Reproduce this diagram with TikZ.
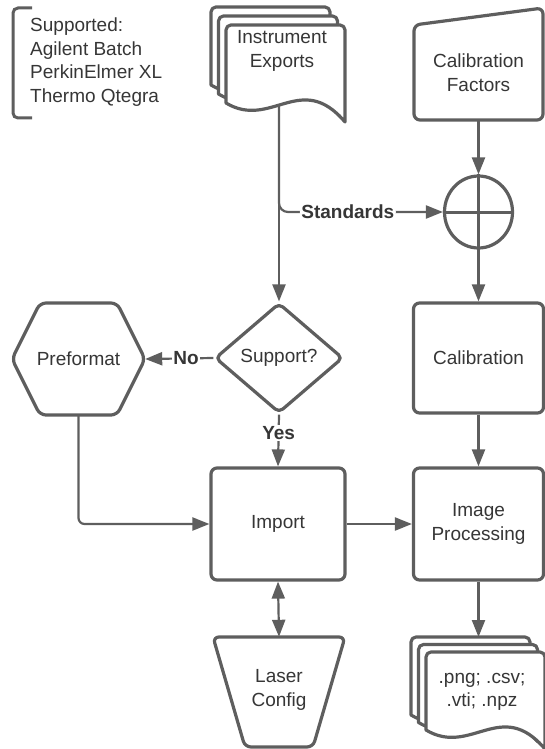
\documentclass[tikz,border=0pt]{standalone}
\usepackage{fontspec}
\setmainfont{Liberation Sans}
\usetikzlibrary{arrows.meta,shapes.geometric,calc,backgrounds}
\definecolor{ln}{HTML}{5E5E5E}
\definecolor{tx}{HTML}{363636}
\newcommand{\mydocshape}[1]{%
  \draw[shp,shift={#1}] (0,78) [rounded corners=5pt] -- (0,0) -- (119,0) [sharp corners] -- (119,97)
    .. controls (75,45) and (45,105) .. (0,78) -- cycle;}
\begin{document}
\begin{tikzpicture}[x=1pt,y=-1pt,
  every node/.style={text=tx, font=\fontsize{19}{23.5}\selectfont, align=center, inner sep=0pt},
  shp/.style={draw=ln, line width=3.2pt, fill=white, rounded corners=6pt, line join=round},
  box/.style={shp, minimum width=130pt, minimum height=110pt},
  conn/.style={draw=ln, line width=2.2pt, -{Triangle[length=17pt,width=13pt]}},
  lbl/.style={fill=white, font=\fontsize{19}{23}\selectfont\bfseries, inner sep=1.5pt}
]
\useasboundingbox (0,0) rectangle (545,749);

% annotation
\draw[ln, line width=3pt, rounded corners=5pt] (32,8) -- (13,8) -- (13,118) -- (32,118);
\node[anchor=west, align=left] (note) at (30,62) {Supported:\\Agilent Batch\\PerkinElmer XL\\Thermo Qtegra};

% instrument exports
\mydocshape{(211,7)}
\mydocshape{(218.5,16)}
\mydocshape{(226,25)}
\node (ie) at (282,51) {Instrument\\Exports};
\coordinate (ieout) at (279,104.5);

% calibration factors
\node[minimum width=129pt, minimum height=95pt] (cf) at (478.5,72.5) {Calibration\\Factors};
\begin{scope}[on background layer]
\draw[shp] (414,120) -- (414,25) -- (543,8) -- (543,120) -- cycle;
\end{scope}

% summing junction
\node[shp, ellipse, minimum width=68pt, minimum height=72pt] (sum) at (478.5,212) {};
\draw[ln, line width=3pt] (sum.north) -- (sum.south) (sum.west) -- (sum.east);

% support decision
\node[shp, diamond, aspect=1.16, minimum width=128pt, minimum height=110pt, rounded corners=5pt] (sup) at (279,358) {Support?};

% preformat hexagon
\node[minimum width=133pt, minimum height=112pt] (pre) at (78.5,359) {Preformat};
\begin{scope}[on background layer]
\draw[shp] (12,359) -- (40,303) -- (117,303) -- (145,359) -- (117,415) -- (40,415) -- cycle;
\end{scope}

% boxes
\node[box] (cal) at (478.5,358) {Calibration};
\node[box, minimum width=134pt, minimum height=112pt] (imp) at (278,524) {Import};
\node[box, minimum height=112pt] (ip) at (478.5,524) {Image\\Processing};

% laser config
\node[minimum width=132pt, minimum height=106pt] (lc) at (279,690) {Laser\\Config};
\begin{scope}[on background layer]
\draw[shp] (213,637) -- (345,637) -- (313,747) -- (245,747) -- cycle;
\end{scope}

% output documents
\begin{scope}[on background layer]
\mydocshape{(411,637)}
\mydocshape{(418.5,644.5)}
\mydocshape{(426,652)}
\end{scope}
\node (out) at (482,692) {.png; .csv;\\.vti; .npz};
\coordinate (outin) at (478.5,637);

% connectors
\draw[conn] (ieout) -- (sup.north);
\draw[conn, rounded corners=9pt] (ieout) |- node[lbl, pos=0.71] {Standards} (sum.west);
\draw[conn] (cf.south) -- (sum.north);
\draw[conn] (sum.south) -- (cal.north);
\draw[conn] (cal.south) -- (ip.north);
\draw[conn] (sup.west) -- node[lbl, pos=0.4] {No} (pre.east);
\draw[conn] (sup.south) -- node[lbl, pos=0.36] {Yes} (imp.north);
\draw[conn, rounded corners=6pt] (pre.south) |- (imp.west);
\draw[conn] (imp.east) -- (ip.west);
\draw[conn, {Triangle[length=17pt,width=13pt]}-{Triangle[length=17pt,width=13pt]}] (imp.south) -- (lc.north);
\draw[conn] (ip.south) -- (outin);
\end{tikzpicture}
\end{document}
